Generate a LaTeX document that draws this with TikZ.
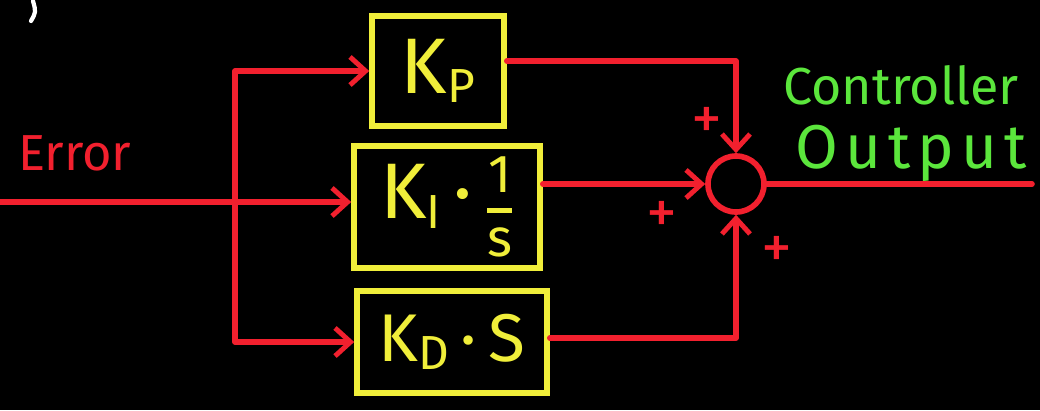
\documentclass[tikz,border=0pt]{standalone}
\usepackage{fontspec}
\usepackage{amsmath}
\setmainfont{Fira Sans}
\usetikzlibrary{arrows.meta}
\definecolor{wred}{HTML}{F2202E}
\definecolor{wyel}{HTML}{F0EE3A}
\definecolor{wgrn}{HTML}{5BE63C}
\newcommand{\subtxt}[1]{\raisebox{-0.12em}{\fontsize{34}{34}\selectfont #1}}
\newcommand{\fractxt}[2]{$\genfrac{}{}{3.5pt}{0}{\mbox{\fontsize{38}{38}\selectfont #1}}{\mbox{\fontsize{38}{38}\selectfont #2}}$}
\begin{document}
\begin{tikzpicture}[x=0.025cm,y=-0.025cm,
  wire/.style={draw=wred, line width=4pt, line cap=round, line join=round},
  arr/.style={wire, -{Straight Barb[length=11pt,width=20pt,line width=3.5pt]}},
  blk/.style={draw=wyel, line width=4pt, text=wyel, inner sep=0pt,
    font=\fontsize{56}{56}\selectfont},
  lbl/.style={inner sep=0pt, anchor=base west},
  plus/.style={text=wred, inner sep=0pt, font=\fontsize{44}{44}\selectfont}
]
\fill[black] (0,0) rectangle (1040,410);
\useasboundingbox (0,0) rectangle (1040,410);

% stray white mark
\draw[white, line width=3pt, line cap=round] (33,1) .. controls (36,12) .. (31,21);

% labels
\node[lbl, text=wred, font=\fontsize{36}{36}\selectfont] (err) at (18,170) {Error};
\node[lbl, text=wgrn, font=\fontsize{37}{37}\selectfont] (ctl) at (783,104) {Controller};
\node[lbl, text=wgrn, font=\fontsize{44}{44}\selectfont] (outl) at (795,168)
  {O\kern5pt u\kern5pt t\kern5pt p\kern5pt u\kern5pt t};

% blocks
\node[blk, minimum width=3.3cm, minimum height=2.75cm] (kp) at (438,71) {K\subtxt{P}};
\node[blk, minimum width=4.65cm, minimum height=3.05cm] (ki) at (447,207)
  {K\subtxt{I}\,\textperiodcentered\,\fractxt{1}{s}};
\node[blk, minimum width=4.75cm, minimum height=2.55cm, font=\fontsize{48}{48}\selectfont] (kd) at (452,342)
  {K\subtxt{D}\,\textperiodcentered\,S};

% summing junction
\node[draw=wred, line width=4pt, circle, minimum size=1.4cm, inner sep=0pt] (sum) at (736,184) {};

% coordinates
\coordinate (in) at (0,202);
\coordinate (split) at (235,202);
\coordinate (out) at (1032,184);

% wires
\draw[arr] (in) -- (ki.west |- in);
\draw[arr] (split) |- (kp.west);
\draw[arr] (split) |- (kd.west);
\draw[arr] (kp.east |- 0,61) -| (sum.north);
\draw[arr] (ki.east |- sum.west) -- (sum.west);
\draw[arr] (kd.east |- 0,338) -| (sum.south);
\draw[wire] (sum.east) -- (out);

% signs
\node[plus] (p1) at (707,123) {+};
\node[plus] (p2) at (662,217) {+};
\node[plus] (p3) at (777,252) {+};
\end{tikzpicture}
\end{document}
